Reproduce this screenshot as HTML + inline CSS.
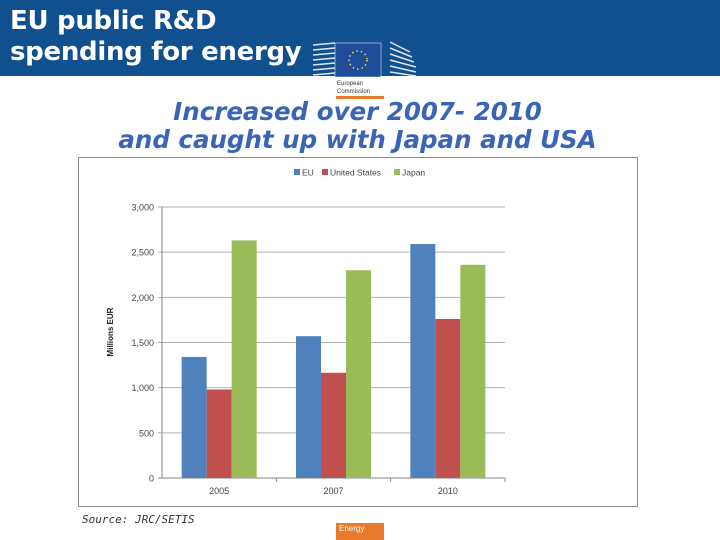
<!DOCTYPE html>
<html><head><meta charset="utf-8"><style>
body{margin:0;width:720px;height:540px;overflow:hidden;background:#fff;font-family:"Liberation Sans",sans-serif;position:relative}
.hdr{position:absolute;left:0;top:0;width:720px;height:76px;background:#11508f}
.t{position:absolute;left:10px;top:6px;color:#fff;font:bold 26px/31px "DejaVu Sans","Liberation Sans",sans-serif;letter-spacing:-0.3px}
.sub{position:absolute;left:0;width:715px;text-align:center;color:#3a64b8;font:italic bold 24.5px/28px "DejaVu Sans","Liberation Sans",sans-serif}
</style></head><body>
<div class="hdr"></div>
<div class="t">EU public R&amp;D<br>spending for energy</div>
<svg style="position:absolute;left:310px;top:30px" width="120" height="72">
 <g stroke="#dfe6f0" stroke-width="1.5">
  <line x1="3" y1="15" x2="25" y2="13"/><line x1="3" y1="20" x2="25" y2="18"/><line x1="3" y1="25" x2="25" y2="23"/><line x1="3" y1="30" x2="25" y2="28"/><line x1="3" y1="35" x2="25" y2="33"/><line x1="3" y1="40" x2="25" y2="38"/><line x1="3" y1="45" x2="25" y2="43"/>
  <line x1="80" y1="12" x2="100" y2="22"/><line x1="80" y1="18" x2="102" y2="27"/><line x1="80" y1="24" x2="104" y2="32"/><line x1="80" y1="30" x2="106" y2="37"/><line x1="80" y1="36" x2="106" y2="42"/><line x1="80" y1="42" x2="106" y2="46"/>
 </g>
 <rect x="25" y="13" width="46" height="34" fill="#1f4d9a" stroke="#fff" stroke-width="0.5"/>
 <circle cx="48" cy="30" r="9" fill="none" stroke="#f3d73a" stroke-width="1.5" stroke-dasharray="1.5 3"/>
 <text x="27" y="55" font-size="6" fill="#333">European</text>
 <text x="27" y="63" font-size="6" fill="#333">Commission</text>
 <rect x="26" y="66" width="48" height="3" fill="#e57b2b"/>
</svg>
<div class="sub" style="top:98px">Increased over 2007- 2010</div>
<div class="sub" style="top:126px">and caught up with Japan and USA</div>
<svg id="chart" style="position:absolute;left:0;top:0" width="720" height="540"></svg>
<div style="position:absolute;left:82px;top:513px;font:italic 11px 'DejaVu Sans Mono',monospace;color:#333">Source: JRC/SETIS</div>
<div style="position:absolute;left:336px;top:523px;width:48px;height:17px;background:#e8792d;color:#fff;font-size:8px;line-height:12px;padding-left:3px;box-sizing:border-box">Energy</div>
<script>
const categories=["2005","2007","2010"];
const seriesNames=["EU","United States","Japan"];
const euValues=[1340,1570,2590];
const usValues=[980,1165,1760];
const japanValues=[2630,2300,2360];
const yTicks=[0,500,1000,1500,2000,2500,3000];
const yTickLabels=["0","500","1,000","1,500","2,000","2,500","3,000"];
const colors=["#4f81bd","#c0504d","#9bbb59"];
const series=[euValues,usValues,japanValues];
const NS="http://www.w3.org/2000/svg";
const svg=document.getElementById('chart');
const x0=162,x1=505,y0=478,y1=207,yMax=3000;
const yScale=v=>y0-(v/yMax)*(y0-y1);
const catW=(x1-x0)/categories.length;
const barW=25;
function mk(t,a){const e=document.createElementNS(NS,t);for(const k in a)e.setAttribute(k,a[k]);svg.appendChild(e);return e;}
let box=mk('rect',{x:78.5,y:157.5,width:559,height:349,fill:'#fff',stroke:'#8c8c8c'});


yTicks.forEach((v,i)=>{
 const y=yScale(v);
 const g=mk('line',{x1:x0-4,x2:x1,y1:y,y2:y,stroke:i==0?'#868686':'#b0b0b0'});
 
 
 const t=mk('text',{x:x0-8,y:y+3.5,'text-anchor':'end','font-size':'9',fill:'#444'});
 t.textContent=yTickLabels[i];
 
 
});
const ax=mk('line',{x1:x0,x2:x0,y1:y1,y2:y0,stroke:'#868686'});


categories.forEach((c,ci)=>{
 const cx=x0+catW*(ci+0.5);
 const tk=mk('line',{x1:x0+catW*(ci+1),x2:x0+catW*(ci+1),y1:y0,y2:y0+4,stroke:'#868686'});
 
 
 const t=mk('text',{x:cx,y:y0+16,'text-anchor':'middle','font-size':'9',fill:'#444'});
 t.textContent=c;
 
 
 series.forEach((s,si)=>{
  const bx=cx-1.5*barW+si*barW;
  const r=mk('rect',{x:bx,y:yScale(s[ci]),width:barW,height:y0-yScale(s[ci]),fill:colors[si]});
  
  
 });
});
const yt=mk('text',{x:0,y:0,transform:'translate(113,332) rotate(-90)','text-anchor':'middle','font-size':'8','font-weight':'bold',fill:'#222'});
yt.textContent='Millions EUR';


const lx=[294,322,394];
seriesNames.forEach((n,i)=>{
 const r=mk('rect',{x:lx[i],y:169,width:6,height:6,fill:colors[i]});
 
 
 const t=mk('text',{x:lx[i]+8,y:175.5,'font-size':'8.5',fill:'#444'});
 t.textContent=n;
 
 
});
</script>
</body></html>
